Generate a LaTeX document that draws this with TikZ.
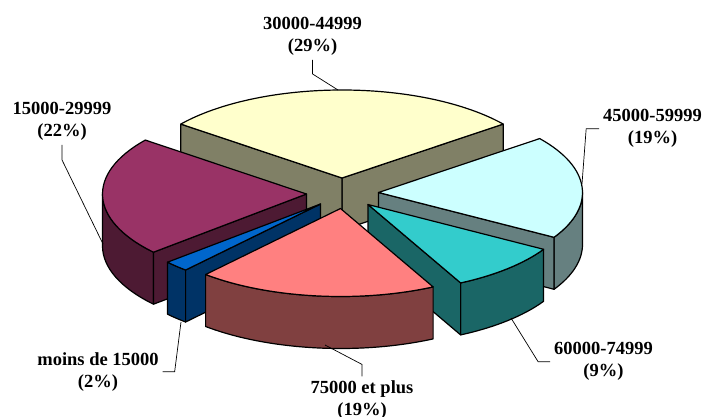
\documentclass[tikz,border=0pt]{standalone}
\usepackage{fontspec}
\setmainfont{Liberation Serif}
\definecolor{yelTop}{HTML}{FFFFCC}
\definecolor{yelSide}{HTML}{808066}
\definecolor{cyaTop}{HTML}{CCFFFF}
\definecolor{cyaSide}{HTML}{668080}
\definecolor{tealTop}{HTML}{33CCCC}
\definecolor{tealSide}{HTML}{1A6666}
\definecolor{pinkTop}{HTML}{FF8080}
\definecolor{pinkSide}{HTML}{804040}
\definecolor{bluTop}{HTML}{0066CC}
\definecolor{bluSide}{HTML}{003366}
\definecolor{purTop}{HTML}{993366}
\definecolor{purSide}{HTML}{4D1A33}
\tikzset{
  pieedge/.style={draw=black, line width=1.2pt, line join=round},
  leader/.style={draw=black, line width=0.7pt},
  lbl/.style={font=\bfseries\fontsize{18.5}{22}\selectfont, align=center, inner sep=0pt, outer sep=4pt}
}
\newcommand{\pieTop}[3]{\filldraw[pieedge, fill=#3] (0,0) -- (#1:204 and 88) arc[start angle=#1, end angle=#2, x radius=204, y radius=88] -- cycle;}
\newcommand{\pieSide}[3]{\filldraw[pieedge, fill=#3] (#1:204 and 88) arc[start angle=#1, end angle=#2, x radius=204, y radius=88] -- ++(0,-52) arc[start angle=#2, end angle=#1, x radius=204, y radius=88] -- cycle;}
\newcommand{\pieRad}[2]{\filldraw[pieedge, fill=#2] (0,0) -- (#1:204 and 88) -- ++(0,-52) -- (0,-52) -- cycle;}
\begin{document}
\begin{tikzpicture}[x=1pt,y=1pt]
\useasboundingbox (0,0) rectangle (705,416);
\fill[white] (0,0) rectangle (705,416);
% 30000-44999 (yellow)
\begin{scope}[shift={(342,238)}]
  \pieRad{37.8}{yelSide}
  \pieRad{142.2}{yelSide}
  \pieTop{37.8}{142.2}{yelTop}
\end{scope}
% 15000-29999 (purple)
\begin{scope}[shift={(306.5,222)}]
  \pieSide{180}{221.4}{purSide}
  \pieRad{221.4}{purSide}
  \pieTop{142.2}{221.4}{purTop}
\end{scope}
% 45000-59999 (cyan)
\begin{scope}[shift={(378.5,223.5)}]
  \pieSide{329.4}{360}{cyaSide}
  \pieRad{329.4}{cyaSide}
  \pieTop{329.4}{397.8}{cyaTop}
\end{scope}
% 60000-74999 (teal)
\begin{scope}[shift={(368,211.5)}]
  \pieSide{297}{329.4}{tealSide}
  \pieRad{297}{tealSide}
  \pieTop{297}{329.4}{tealTop}
\end{scope}
% moins de 15000 (blue)
\begin{scope}[shift={(320.5,212)}]
  \pieSide{221.4}{228.6}{bluSide}
  \pieRad{228.6}{bluSide}
  \pieTop{221.4}{228.6}{bluTop}
\end{scope}
% 75000 et plus (pink)
\begin{scope}[shift={(340.5,207.5)}]
  \pieSide{228.6}{297}{pinkSide}
  \pieTop{228.6}{297}{pinkTop}
\end{scope}
% labels
\node[lbl] (l30) at (312.5,379.2) {30000-44999\\(29\%)};
\node[lbl] (l15) at (62,294.2) {15000-29999\\(22\%)};
\node[lbl] (l45) at (652.5,287.2) {45000-59999\\(19\%)};
\node[lbl] (l60) at (603.5,54.2) {60000-74999\\(9\%)};
\node[lbl] (l75) at (362,16.2) {75000 et plus\\(19\%)};
\node[lbl] (lm) at (98,44.2) {moins de 15000\\(2\%)};
% leader lines
\coordinate (p30) at (338,326);
\coordinate (p15) at (103,172);
\coordinate (p45) at (582,232);
\coordinate (p60) at (511,98);
\coordinate (p75) at (325,71);
\coordinate (pm) at (181,94);
\draw[leader] (l30.south) -- ++(0,-14) -- (p30);
\draw[leader] (l15.south) -- ++(0,-15) -- (p15);
\draw[leader] (l45.west) -- ++(-13,0) -- (p45);
\draw[leader] (l60.west) -- ++(-12,0) -- (p60);
\draw[leader] (l75.north) -- ++(0,12) -- (p75);
\draw[leader] (lm.east) -- ++(12,0) -- (pm);
\end{tikzpicture}
\end{document}
